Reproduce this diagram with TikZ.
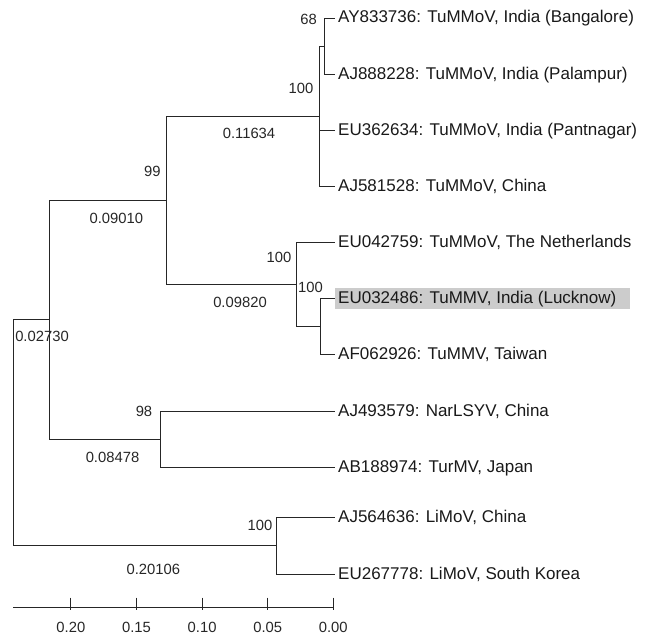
\documentclass[tikz,border=0pt]{standalone}
\usepackage{fontspec}
\setmainfont{Liberation Sans}
\begin{document}
\begin{tikzpicture}[x=1pt,y=-1pt,
  branch/.style={draw=black!85, line width=0.9pt},
  leaf/.style={anchor=west, inner xsep=3pt, inner ysep=0pt, text height=12pt, text depth=2pt, font=\fontsize{17}{20}\selectfont, text=black!90},
  num/.style={inner sep=0pt, font=\fontsize{14.8}{17}\selectfont, text=black!85},
  hl/.style={fill=black!20, minimum height=21pt},
]
\useasboundingbox (0,0) rectangle (647,634);
% internal nodes
\coordinate (root) at (13.3,432.5);
\coordinate (A) at (49.3,319.5);
\coordinate (B) at (166.7,200);
\coordinate (C) at (319.5,116);
\coordinate (D) at (324,46);
\coordinate (E) at (296,284);
\coordinate (F) at (320,326);
\coordinate (G) at (160,439);
\coordinate (H) at (276.7,545.5);
% leaves
\node[leaf] (l1) at (335,18) {AY833736: TuMMoV, India (Bangalore)};
\node[leaf] (l2) at (335,74) {AJ888228: TuMMoV, India (Palampur)};
\node[leaf] (l3) at (335,130) {EU362634: TuMMoV, India (Pantnagar)};
\node[leaf] (l4) at (335,186) {AJ581528: TuMMoV, China};
\node[leaf] (l5) at (335,242) {EU042759: TuMMoV, The Netherlands};
\node[leaf,hl] (l6) at (335,298) {EU032486: TuMMV, India (Lucknow)\hspace*{11pt}};
\node[leaf] (l7) at (335,354) {AF062926: TuMMV, Taiwan};
\node[leaf] (l8) at (335,411) {AJ493579: NarLSYV, China};
\node[leaf] (l9) at (335,467) {AB188974: TurMV, Japan};
\node[leaf] (l10) at (335,517) {AJ564636: LiMoV, China};
\node[leaf] (l11) at (335,574) {EU267778: LiMoV, South Korea};
% branches
\draw[branch] (root) |- (A);
\draw[branch] (root) |- (H);
\draw[branch] (A) |- (B);
\draw[branch] (A) |- (G);
\draw[branch] (B) |- (C);
\draw[branch] (B) |- (E);
\draw[branch] (C) |- (D);
\draw[branch] (C) |- (l3.west);
\draw[branch] (C) |- (l4.west);
\draw[branch] (D) |- (l1.west);
\draw[branch] (D) |- (l2.west);
\draw[branch] (E) |- (l5.west);
\draw[branch] (E) |- (F);
\draw[branch] (F) |- (l6.west);
\draw[branch] (F) |- (l7.west);
\draw[branch] (G) |- (l8.west);
\draw[branch] (G) |- (l9.west);
\draw[branch] (H) |- (l10.west);
\draw[branch] (H) |- (l11.west);
% support and length labels
\node[num] (s68) at (308.5,19) {68};
\node[num] (sC) at (301,88.3) {100};
\node[num] (bC) at (249,133.3) {0.11634};
\node[num] (s99) at (152.3,171.7) {99};
\node[num] (bB) at (116.3,218.3) {0.09010};
\node[num] (sE) at (279,257.7) {100};
\node[num] (sF) at (310.5,287) {100};
\node[num] (bE) at (240,302.7) {0.09820};
\node[num] (bA) at (42,336.7) {0.02730};
\node[num] (s98) at (144,411) {98};
\node[num] (bG) at (112.5,457.3) {0.08478};
\node[num] (sH) at (260,525) {100};
\node[num] (bH) at (153.3,569.3) {0.20106};
% scale axis
\coordinate (ax0) at (13.3,607.7);
\coordinate (ax1) at (333.3,607.7);
\draw[branch] (ax0) -- (ax1);
\foreach \v/\x/\i in {0.20/70.9/a,0.15/136.5/b,0.10/202.1/c,0.05/267.7/d,0.00/333.3/e}{
  \coordinate (tt\i) at (\x,597.5);
  \coordinate (tb\i) at (\x,610);
  \draw[branch] (tt\i) -- (tb\i);
  \node[num] (tl\i) at (\x,627) {\v};
}
\end{tikzpicture}
\end{document}
